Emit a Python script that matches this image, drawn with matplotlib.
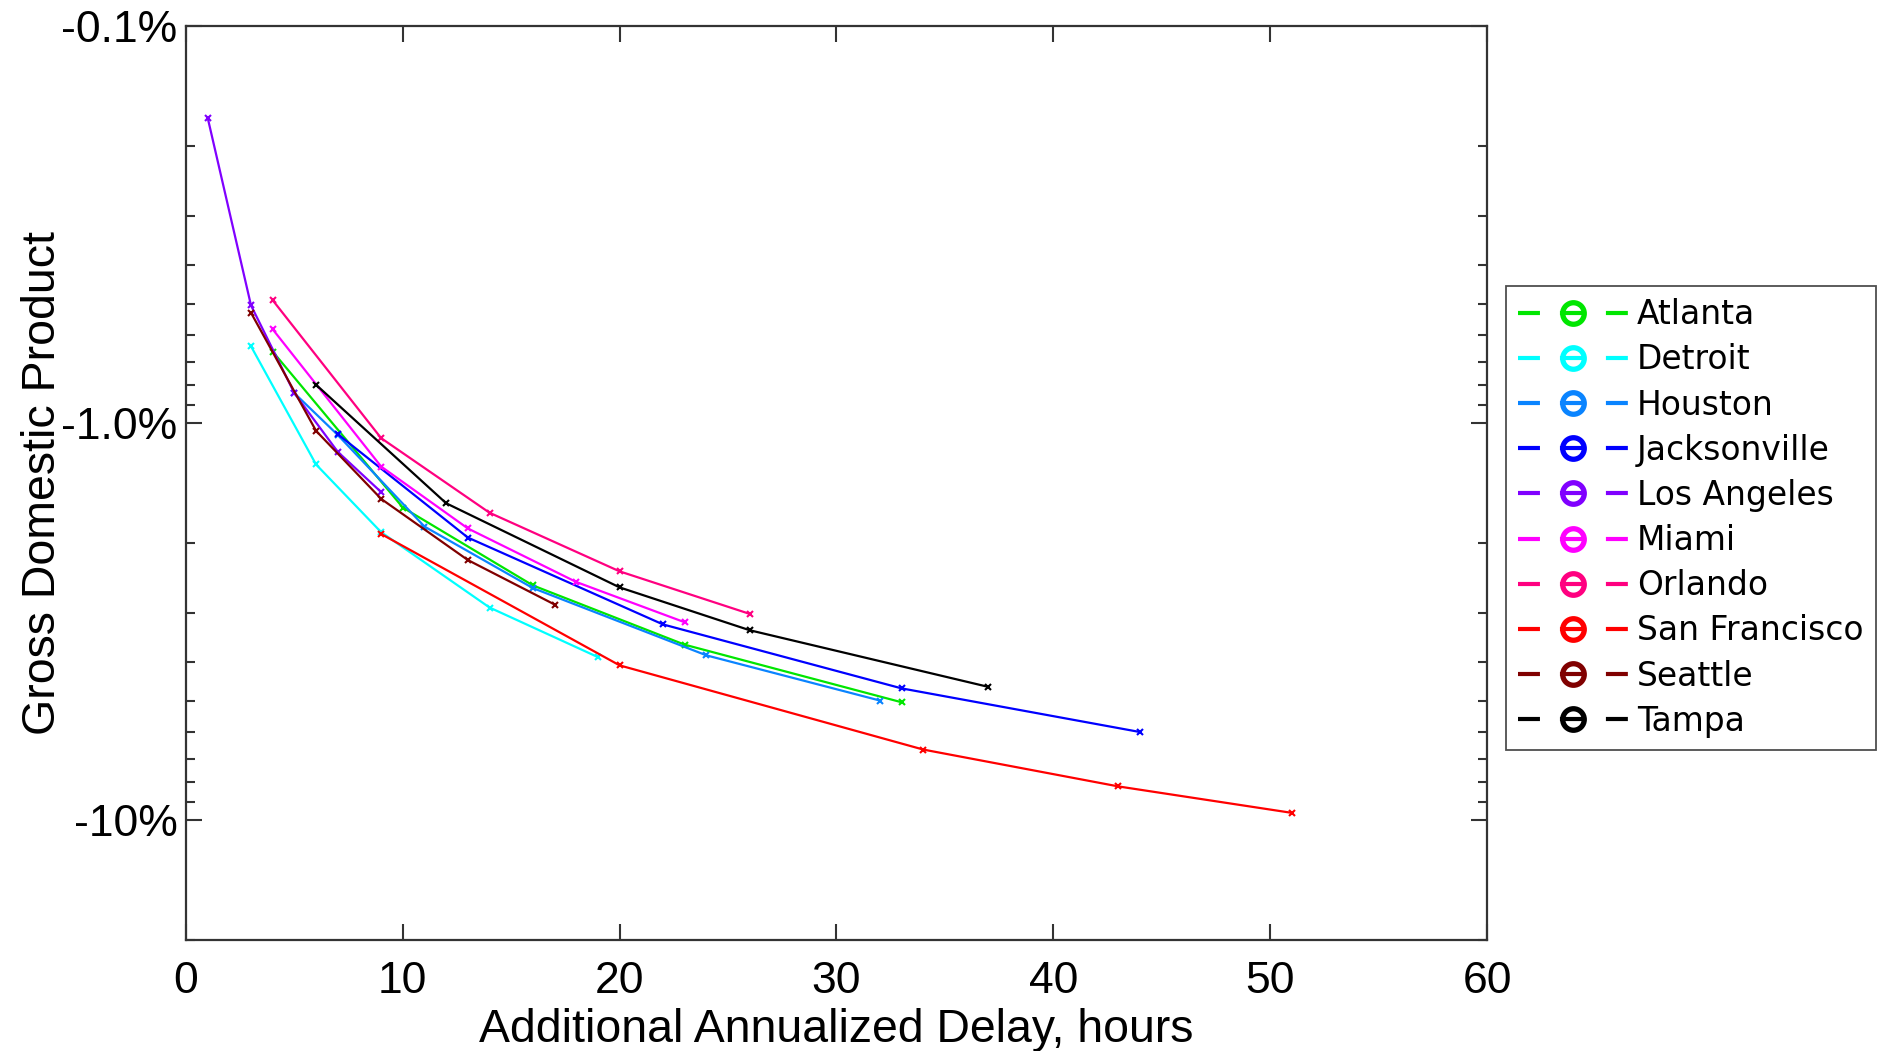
import numpy as np
import matplotlib
matplotlib.use('Agg')
import matplotlib.pyplot as plt
from matplotlib.lines import Line2D
from matplotlib.ticker import FixedLocator, LogLocator, NullFormatter

plt.rcParams['lines.scale_dashes'] = False

# GDP change (%) vs additional annualized delay (hours)
cities = ['Atlanta', 'Detroit', 'Houston', 'Jacksonville', 'Los Angeles',
          'Miami', 'Orlando', 'San Francisco', 'Seattle', 'Tampa']
colors = ['#00e600', '#00ffff', '#0a84ff', '#0000ff', '#8000ff',
          '#ff00ff', '#ff0080', '#ff0000', '#800000', '#000000']

atlanta_x = [4, 10, 16, 23, 33]
atlanta_y = [-0.66, -1.63, -2.56, -3.61, -5.04]
detroit_x = [3, 6, 9, 14, 19]
detroit_y = [-0.64, -1.27, -1.88, -2.91, -3.88]
houston_x = [5, 7, 11, 16, 24, 32]
houston_y = [-0.84, -1.07, -1.82, -2.60, -3.84, -4.99]
jacksonville_x = [7, 13, 22, 33, 44]
jacksonville_y = [-1.065, -1.94, -3.21, -4.65, -5.99]
losangeles_x = [1, 3, 5, 7, 9]
losangeles_y = [-0.17, -0.505, -0.84, -1.18, -1.49]
miami_x = [4, 9, 13, 18, 23]
miami_y = [-0.58, -1.285, -1.84, -2.51, -3.17]
orlando_x = [4, 9, 14, 20, 26]
orlando_y = [-0.49, -1.09, -1.68, -2.36, -3.02]
sanfrancisco_x = [9, 20, 34, 43, 51]
sanfrancisco_y = [-1.90, -4.07, -6.63, -8.21, -9.57]
seattle_x = [3, 6, 9, 13, 17]
seattle_y = [-0.527, -1.045, -1.55, -2.21, -2.86]
tampa_x = [6, 12, 20, 26, 37]
tampa_y = [-0.80, -1.59, -2.59, -3.32, -4.61]

xs = [atlanta_x, detroit_x, houston_x, jacksonville_x, losangeles_x,
      miami_x, orlando_x, sanfrancisco_x, seattle_x, tampa_x]
ys = [atlanta_y, detroit_y, houston_y, jacksonville_y, losangeles_y,
      miami_y, orlando_y, sanfrancisco_y, seattle_y, tampa_y]

yticks = [-0.1, -1.0, -10]
ytick_labels = ['-0.1%', '-1.0%', '-10%']

fig = plt.figure(figsize=(18.84, 10.51), dpi=100)
ax = fig.add_axes([0.0987, 0.1056, 0.6906, 0.8696])

for x, y, c in zip(xs, ys, colors):
    ax.plot(x, -np.array(y), color=c, lw=1.6, marker='x', ms=5, mew=1.5)

ax.set_yscale('log')
ax.set_ylim(20, 0.1)
ax.set_xlim(0, 60)
ax.set_xticks([0, 10, 20, 30, 40, 50, 60])
ax.yaxis.set_major_locator(FixedLocator([-v for v in yticks]))
ax.set_yticklabels(ytick_labels)
ax.yaxis.set_minor_locator(LogLocator(base=10, subs=np.arange(2, 10)))
ax.yaxis.set_minor_formatter(NullFormatter())

for lab in ax.get_xticklabels() + ax.get_yticklabels():
    lab.set_fontfamily('Liberation Sans')
    lab.set_fontsize(32)

ax.tick_params(which='major', direction='in', length=11.5, width=1.5,
               top=True, right=True, color='#333333')
ax.tick_params(which='minor', direction='in', length=6.5, width=1.5,
               top=True, right=True, color='#333333')
ax.tick_params(axis='x', pad=15)
ax.tick_params(axis='y', pad=6)
for s in ax.spines.values():
    s.set_linewidth(1.6)
    s.set_color('#333333')

ax.set_xlabel('Additional Annualized Delay, hours', family='Liberation Sans', size=33.4)
ax.set_ylabel('Gross Domestic Product', family='Liberation Sans', size=33.5)
ax.xaxis.set_label_coords(0.5, -0.074)
ax.yaxis.set_label_coords(-0.093, 0.5)

handles = [Line2D([0], [0], color=c, lw=3, ls=(0, (15.8, 14.4, 18.7, 14.4, 15.8, 100)),
                  marker='o', ms=15.5, mew=3.8, mfc='none', mec=c, label=n)
           for n, c in zip(cities, colors)]
leg = fig.legend(handles=handles, loc='upper left', bbox_to_anchor=(0.7994, 0.7279),
                 prop={'family': 'DejaVu Sans', 'size': 23.7}, frameon=True, fancybox=False,
                 edgecolor='#222222', handlelength=3.34, handletextpad=0.27,
                 labelspacing=0.37, borderpad=0.37, borderaxespad=0, numpoints=1)
leg.get_frame().set_linewidth(1.3)

fig.savefig('out.png', dpi=100)
